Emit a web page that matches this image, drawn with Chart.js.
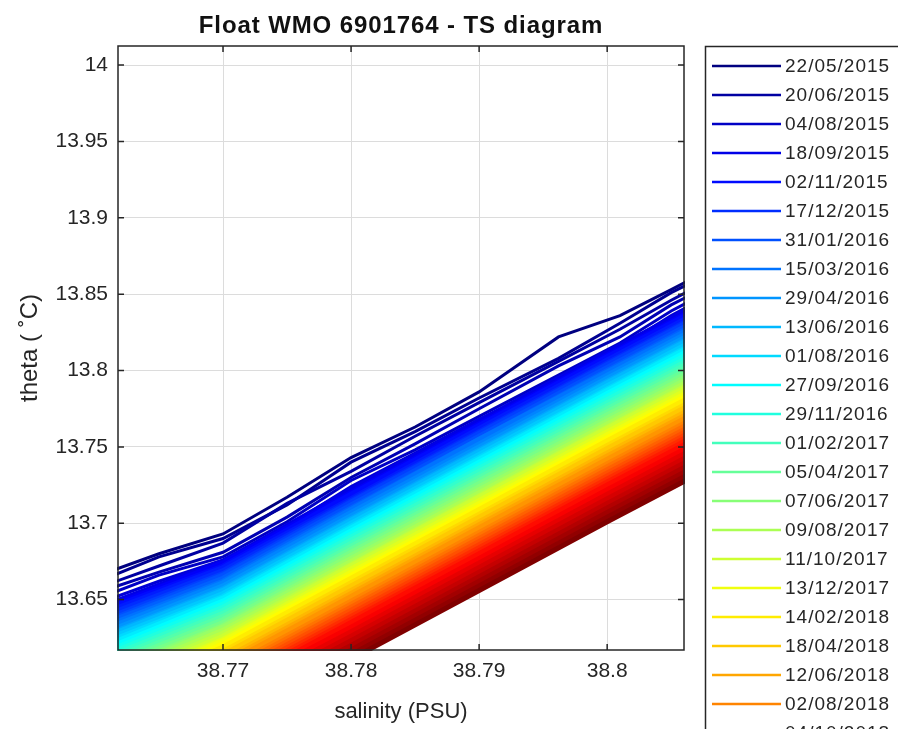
<!DOCTYPE html>
<html>
<head>
<meta charset="utf-8">
<script src="https://cdn.jsdelivr.net/npm/chart.js@4.4.0/dist/chart.umd.min.js"></script>
<style>
  html, body { margin: 0; padding: 0; background: #fff; }
  #wrap { width: 898px; height: 729px; position: relative; }
</style>
</head>
<body>
<div id="wrap"><canvas id="ts"></canvas></div>
<script>
// salinity grids the profiles are sampled on
const salinityFine = [38.760, 38.765, 38.770, 38.775, 38.780, 38.785, 38.790, 38.7962, 38.801, 38.805, 38.810];
const salinityGrid = [38.760, 38.770, 38.780, 38.790, 38.800, 38.810];

// first (dark blue) profiles, theta at salinityFine
const earlyProfiles = [
  [13.665, 13.680, 13.693, 13.717, 13.743, 13.763, 13.786, 13.822, 13.836, 13.853, 13.875],
  [13.661, 13.678, 13.690, 13.712, 13.740, 13.760, 13.782, 13.808, 13.831, 13.851, 13.872],
  [13.657, 13.672, 13.687, 13.713, 13.734, 13.757, 13.779, 13.806, 13.827, 13.846, 13.868],
  [13.654, 13.668, 13.681, 13.704, 13.730, 13.752, 13.775, 13.803, 13.822, 13.843, 13.864],
  [13.650, 13.666, 13.678, 13.701, 13.728, 13.748, 13.770, 13.797, 13.818, 13.839, 13.861],
  [13.647, 13.662, 13.676, 13.698, 13.724, 13.746, 13.768, 13.793, 13.815, 13.836, 13.858]
];

// remaining profiles, theta at salinityGrid
const laterProfiles = [
  [13.644, 13.675, 13.722, 13.767, 13.812, 13.856],
  [13.642, 13.674, 13.720, 13.765, 13.810, 13.854],
  [13.641, 13.672, 13.719, 13.764, 13.809, 13.853],
  [13.639, 13.671, 13.716, 13.762, 13.807, 13.851],
  [13.637, 13.669, 13.715, 13.760, 13.805, 13.849],
  [13.635, 13.667, 13.714, 13.759, 13.804, 13.848],
  [13.633, 13.666, 13.712, 13.757, 13.802, 13.846],
  [13.632, 13.664, 13.710, 13.755, 13.800, 13.844],
  [13.630, 13.662, 13.709, 13.755, 13.799, 13.843],
  [13.628, 13.661, 13.707, 13.752, 13.797, 13.841],
  [13.626, 13.659, 13.705, 13.750, 13.795, 13.839],
  [13.624, 13.657, 13.703, 13.748, 13.793, 13.837],
  [13.623, 13.656, 13.702, 13.747, 13.792, 13.836],
  [13.621, 13.654, 13.700, 13.745, 13.790, 13.834],
  [13.619, 13.652, 13.698, 13.743, 13.788, 13.832],
  [13.617, 13.651, 13.697, 13.742, 13.787, 13.831],
  [13.615, 13.649, 13.695, 13.740, 13.785, 13.829],
  [13.613, 13.647, 13.693, 13.738, 13.783, 13.827],
  [13.611, 13.645, 13.691, 13.736, 13.781, 13.825],
  [13.609, 13.643, 13.689, 13.734, 13.779, 13.823],
  [13.607, 13.641, 13.687, 13.732, 13.777, 13.821],
  [13.605, 13.639, 13.685, 13.730, 13.775, 13.819],
  [13.603, 13.637, 13.683, 13.728, 13.773, 13.817],
  [13.601, 13.635, 13.681, 13.726, 13.771, 13.815],
  [13.599, 13.633, 13.679, 13.724, 13.769, 13.813],
  [13.597, 13.632, 13.677, 13.722, 13.767, 13.811],
  [13.595, 13.630, 13.675, 13.720, 13.765, 13.809],
  [13.593, 13.628, 13.673, 13.718, 13.763, 13.807],
  [13.591, 13.626, 13.672, 13.717, 13.762, 13.806],
  [13.589, 13.624, 13.670, 13.715, 13.760, 13.804],
  [13.587, 13.623, 13.668, 13.713, 13.758, 13.802],
  [13.585, 13.621, 13.666, 13.711, 13.756, 13.800],
  [13.583, 13.619, 13.664, 13.709, 13.754, 13.798],
  [13.580, 13.616, 13.661, 13.706, 13.751, 13.795],
  [13.578, 13.614, 13.659, 13.704, 13.749, 13.793],
  [13.575, 13.611, 13.656, 13.701, 13.746, 13.790],
  [13.572, 13.609, 13.654, 13.699, 13.744, 13.788],
  [13.570, 13.607, 13.652, 13.697, 13.742, 13.786],
  [13.567, 13.604, 13.649, 13.694, 13.739, 13.783],
  [13.565, 13.602, 13.647, 13.692, 13.737, 13.781],
  [13.563, 13.600, 13.645, 13.690, 13.735, 13.779],
  [13.561, 13.598, 13.643, 13.688, 13.733, 13.777],
  [13.558, 13.596, 13.641, 13.686, 13.731, 13.775],
  [13.556, 13.594, 13.639, 13.684, 13.729, 13.773],
  [13.554, 13.592, 13.637, 13.682, 13.727, 13.771],
  [13.552, 13.590, 13.635, 13.680, 13.725, 13.769],
  [13.550, 13.588, 13.632, 13.677, 13.722, 13.766],
  [13.546, 13.585, 13.629, 13.674, 13.719, 13.763],
  [13.543, 13.582, 13.626, 13.671, 13.716, 13.760],
  [13.540, 13.579, 13.623, 13.668, 13.713, 13.757],
  [13.536, 13.576, 13.620, 13.665, 13.710, 13.754],
  [13.533, 13.572, 13.617, 13.662, 13.707, 13.751],
  [13.530, 13.570, 13.614, 13.659, 13.704, 13.748],
  [13.527, 13.567, 13.611, 13.656, 13.701, 13.745]
];

// legend shows every second profile
const legendDates = [
  '22/05/2015', '20/06/2015', '04/08/2015', '18/09/2015', '02/11/2015', '17/12/2015',
  '31/01/2016', '15/03/2016', '29/04/2016', '13/06/2016', '01/08/2016', '27/09/2016',
  '29/11/2016', '01/02/2017', '05/04/2017', '07/06/2017', '09/08/2017', '11/10/2017',
  '13/12/2017', '14/02/2018', '18/04/2018', '12/06/2018', '02/08/2018', '04/10/2018'
];

const xTicks = [38.77, 38.78, 38.79, 38.80];
const yTicks = [13.65, 13.70, 13.75, 13.80, 13.85, 13.90, 13.95, 14.00];

const FONT = '"Liberation Sans", Arial, Helvetica, sans-serif';
const INK = '#262626';
const nProfiles = earlyProfiles.length + laterProfiles.length;

// matlab jet colormap
function jet(t) {
  const c = v => Math.round(255 * Math.max(0, Math.min(1, v)));
  return `rgb(${c(1.5 - Math.abs(4 * t - 3))},${c(1.5 - Math.abs(4 * t - 2))},${c(1.5 - Math.abs(4 * t - 1))})`;
}

const datasets = [];
earlyProfiles.forEach((row, i) => {
  datasets.push({ data: salinityFine.map((s, j) => ({ x: s, y: row[j] })), idx: i });
});
laterProfiles.forEach((row, i) => {
  datasets.push({ data: salinityGrid.map((s, j) => ({ x: s, y: row[j] })), idx: earlyProfiles.length + i });
});
datasets.forEach(d => {
  d.borderColor = jet(d.idx / (nProfiles - 1));
  d.borderWidth = d.idx < earlyProfiles.length ? 3 : 5;
  d.showLine = true;
  d.pointRadius = 0;
  d.tension = 0;
  d.clip = 1;
  d.order = nProfiles - d.idx;   // later profiles on top
});

const fmt = v => String(Number(v.toFixed(3)));

const frameAndLegend = {
  id: 'frameAndLegend',
  afterDatasetsDraw(chart) {
    const { ctx, chartArea: a, scales: { x, y } } = chart;
    ctx.save();
    ctx.strokeStyle = INK;
    ctx.lineWidth = 1.5;
    ctx.strokeRect(a.left, a.top, a.right - a.left, a.bottom - a.top);
    ctx.beginPath();
    xTicks.forEach(v => {
      const px = x.getPixelForValue(v);
      ctx.moveTo(px, a.bottom); ctx.lineTo(px, a.bottom - 6);
      ctx.moveTo(px, a.top); ctx.lineTo(px, a.top + 6);
    });
    yTicks.forEach(v => {
      const py = y.getPixelForValue(v);
      ctx.moveTo(a.left, py); ctx.lineTo(a.left + 6, py);
      ctx.moveTo(a.right, py); ctx.lineTo(a.right - 6, py);
    });
    ctx.stroke();

    // title
    ctx.fillStyle = '#111';
    ctx.font = `bold 24px ${FONT}`;
    ctx.letterSpacing = '0.9px';
    ctx.textAlign = 'center';
    ctx.textBaseline = 'middle';
    ctx.fillText('Float WMO 6901764 - TS diagram', (a.left + a.right) / 2, 26);

    // legend box, cut by the window edge like the original
    ctx.textAlign = 'left';
    ctx.lineWidth = 1.5;
    ctx.strokeStyle = INK;
    ctx.strokeRect(705.5, 46.5, 320, 760);
    ctx.font = `19px ${FONT}`;
    ctx.letterSpacing = '1px';
    ctx.fillStyle = INK;
    legendDates.forEach((d, i) => {
      const ly = 66 + i * 29;
      ctx.strokeStyle = jet(2 * i / (nProfiles - 1));
      ctx.lineWidth = 2.5;
      ctx.beginPath();
      ctx.moveTo(712, ly); ctx.lineTo(781, ly);
      ctx.stroke();
      ctx.fillText(d, 785, ly + 1);
    });
    ctx.restore();
  }
};

new Chart(document.getElementById('ts'), {
  type: 'scatter',
  data: { datasets },
  plugins: [frameAndLegend],
  options: {
    responsive: true,
    maintainAspectRatio: false,
    animation: false,
    events: [],
    layout: { padding: { left: 0, top: 46, right: 214, bottom: 0 } },
    plugins: {
      legend: { display: false },
      tooltip: { enabled: false },
      title: { display: false }
    },
    scales: {
      x: {
        type: 'linear',
        min: 38.7618,
        max: 38.806,
        afterBuildTicks: s => { s.ticks = xTicks.map(v => ({ value: v })); },
        afterFit: s => { s.height = 79; },
        grid: { color: '#dcdcdc', lineWidth: 1, drawTicks: false },
        border: { display: false },
        ticks: { padding: 9, color: INK, font: { family: FONT, size: 21 }, callback: v => fmt(v), maxRotation: 0 },
        title: { display: true, text: 'salinity (PSU)', color: INK, font: { family: FONT, size: 22 }, padding: { top: 0, bottom: 4 } }
      },
      y: {
        type: 'linear',
        min: 13.617,
        max: 14.0125,
        afterBuildTicks: s => { s.ticks = yTicks.map(v => ({ value: v })); },
        afterFit: s => { s.width = 118; },
        grid: { color: '#dcdcdc', lineWidth: 1, drawTicks: false },
        border: { display: false },
        ticks: { padding: 10, color: INK, font: { family: FONT, size: 21 }, callback: v => fmt(v) },
        title: { display: true, text: 'theta ( \u02DAC)', color: INK, font: { family: FONT, size: 24 }, padding: { top: 16, bottom: 0 } }
      }
    }
  }
});
</script>
</body>
</html>
